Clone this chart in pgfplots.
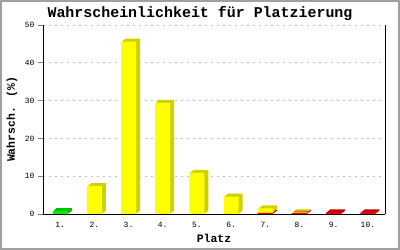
\documentclass[border=0pt]{standalone}
\usepackage{fontspec}
\setmainfont{Liberation Mono}
\usepackage{pgfplots}
\pgfplotsset{compat=1.18}
\definecolor{fy}{HTML}{FFFF00}
\definecolor{dy}{HTML}{D0D000}
\definecolor{fg}{HTML}{00EE00}
\definecolor{dg}{HTML}{00C000}
\definecolor{fr}{HTML}{EE0000}
\definecolor{dr}{HTML}{C00000}
\definecolor{gridc}{HTML}{C0C0C0}
\definecolor{framec}{HTML}{A0A0A0}
\pgfplotsset{base/.style={scale only axis, width=342bp, height=189bp,
  xmin=0.5, xmax=10.5, ymin=0, ymax=50, anchor=south west, clip=false}}
\pgfplotstableread{
x red yellow green
1 0 0 0.9
2 0 7.4 0
3 0 45.6 0
4 0 29.4 0
5 0 10.9 0
6 0 4.6 0
7 0.3 1.2 0
8 0.2 0.25 0
9 0.4 0 0
10 0.4 0 0
}\data
\newcommand\backlayer[2]{%
\begin{axis}[base, at={(#1,#2)}, hide axis, ybar stacked, bar width=15bp]
\addplot[fill=dr, draw=none] table[x=x,y=red] {\data};
\addplot[fill=dy, draw=none] table[x=x,y=yellow] {\data};
\addplot[fill=dg, draw=none] table[x=x,y=green] {\data};
\end{axis}}
\begin{document}
\begin{tikzpicture}
\path[use as bounding box] (0,0) rectangle (400bp,250bp);
\draw[color=framec, line width=2bp] (1bp,1bp) rectangle (399bp,249bp);
% grid
\begin{axis}[base, at={(43bp,36bp)}, ytick={10,20,30,40,50}, xtick=\empty,
  yticklabels={}, ymajorgrids, major grid style={dash pattern=on 2bp off 4bp, color=gridc, line width=0.8bp},
  axis line style={draw=none}, major tick length=0pt]
\addplot[draw=none] coordinates {(1,0)};
\end{axis}
% depth layers
\backlayer{47bp}{39bp}
\backlayer{46bp}{38.25bp}
\backlayer{45bp}{37.5bp}
\backlayer{44bp}{36.75bp}
% front bars and axes
\begin{axis}[base, at={(43bp,36bp)}, ybar stacked, bar width=15bp, axis on top,
  axis x line*=bottom, axis y line*=box, axis line style={-, line width=1bp},
  ytick={0,10,20,30,40,50}, ytick pos=left,
  xtick={1,...,10}, xticklabels={1.,2.,3.,4.,5.,6.,7.,8.,9.,10.},
  xtick style={draw=none}, ytick style={line width=1bp},
  tick align=outside, major tick length=5bp,
  /pgf/number format/assume math mode=true,
  tick label style={font=\fontsize{8}{9}\selectfont},
  title={Wahrscheinlichkeit für Platzierung},
  title style={at={(axis description cs:0.5,1)}, anchor=center, xshift=-14bp, yshift=5bp,
    font=\bfseries\fontsize{15}{16}\selectfont},
  xlabel={Platz}, ylabel={Wahrsch. (\%)},
  every axis x label/.style={at={(axis description cs:0.5,0)}, anchor=center, yshift=-24bp,
    font=\bfseries\fontsize{11.5}{12}\selectfont},
  every axis y label/.style={at={(axis description cs:0,0.5)}, anchor=center, xshift=-31bp, rotate=90,
    font=\bfseries\fontsize{11.5}{12}\selectfont}]
\addplot[fill=fr, draw=none] table[x=x,y=red] {\data};
\addplot[fill=fy, draw=none] table[x=x,y=yellow] {\data};
\addplot[fill=fg, draw=none] table[x=x,y=green] {\data};
\end{axis}
\end{tikzpicture}
\end{document}
